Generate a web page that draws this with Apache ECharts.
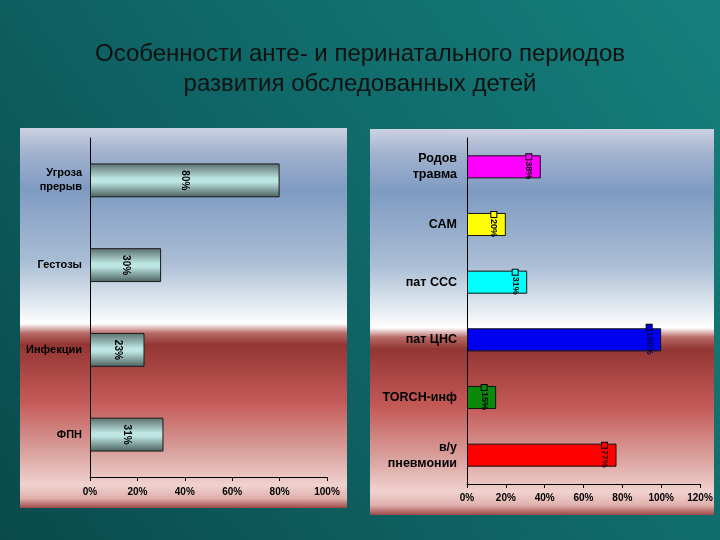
<!DOCTYPE html>
<html><head><meta charset="utf-8">
<script src="https://cdn.jsdelivr.net/npm/echarts@6/dist/echarts.min.js"></script>
<style>html,body{margin:0;padding:0;background:#0e5f60;}#c{width:720px;height:540px;}</style>
</head><body><div id="c"></div>
<script>
const titleText = 'Особенности анте- и перинатального периодов\nразвития обследованных детей';
const leftCategories = ['Угроза\nпрерыв', 'Гестозы', 'Инфекции', 'ФПН'];
const leftValues = [0.80, 0.30, 0.23, 0.31];
const rightCategories = ['Родов\nтравма', 'САМ', 'пат ССС', 'пат ЦНС', 'TORCH-инф', 'в/у\nпневмонии'];
const rightValues = [0.38, 0.20, 0.31, 1.00, 0.15, 0.77];
const leftTicks = [0, 0.2, 0.4, 0.6, 0.8, 1.0];
const rightTicks = [0, 0.2, 0.4, 0.6, 0.8, 1.0, 1.2];
const rightColors = ['#ff00ff', '#ffff00', '#00ffff', '#0000f0', '#0a8a0a', '#ff0000'];
const rightTextColors = ['#000', '#000', '#000', '#000050', '#000', '#300'];

const FONT = '"Liberation Sans", Arial, sans-serif';
const pct = v => Math.round(v * 100) + '%';

function panelFill() {
  return new echarts.graphic.LinearGradient(0, 0, 0, 1, [
    {offset: 0.00, color: '#cdd2e2'},
    {offset: 0.06, color: '#a4b3cf'},
    {offset: 0.16, color: '#7f9bc2'},
    {offset: 0.35, color: '#a9bdd4'},
    {offset: 0.47, color: '#e6ecf2'},
    {offset: 0.515, color: '#ffffff'},
    {offset: 0.54, color: '#b86a66'},
    {offset: 0.57, color: '#923634'},
    {offset: 0.72, color: '#c45a58'},
    {offset: 0.85, color: '#d9a09c'},
    {offset: 0.94, color: '#f0d2ce'},
    {offset: 0.975, color: '#e0b0ac'},
    {offset: 1.00, color: '#9c4a48'}
  ]);
}

const chart = echarts.init(document.getElementById('c'), null, {renderer: 'canvas'});

const leftBarFill = new echarts.graphic.LinearGradient(0, 0, 0, 1, [
  {offset: 0, color: '#5a6f6d'},
  {offset: 0.45, color: '#bde6e2'},
  {offset: 0.55, color: '#bde6e2'},
  {offset: 1, color: '#4a5f5d'}
]);

const option = {
  animation: false,
  backgroundColor: 'transparent',
  graphic: [
    {type: 'rect', z: -10, silent: true, shape: {x: 0, y: 0, width: 720, height: 540},
     style: {fill: new echarts.graphic.LinearGradient(0, 1, 1, 0, [
       {offset: 0, color: '#0a4a4c'}, {offset: 0.5, color: '#0f6667'}, {offset: 1, color: '#16807c'}])}},
    {type: 'rect', z: -5, silent: true, shape: {x: 20, y: 128, width: 327, height: 380}, style: {fill: panelFill()}},
    {type: 'rect', z: -5, silent: true, shape: {x: 370, y: 129, width: 344, height: 386}, style: {fill: panelFill()}}
  ],
  title: {
    text: titleText, left: 'center', top: 34,
    textStyle: {fontFamily: FONT, fontSize: 24, fontWeight: 'normal', color: '#111', lineHeight: 30}
  },
  grid: [
    {left: 90, right: 393, top: 138, bottom: 63, containLabel: false},
    {left: 467, right: 20, top: 138, bottom: 56, containLabel: false}
  ],
  xAxis: [
    {gridIndex: 0, type: 'value', min: 0, max: 1, interval: 0.2,
     axisLine: {show: true, lineStyle: {color: '#000', width: 1}},
     axisTick: {show: true, length: 4, lineStyle: {color: '#000'}},
     splitLine: {show: false},
     axisLabel: {formatter: v => pct(v), margin: 10, fontFamily: FONT, fontSize: 10, fontWeight: 'bold', color: '#000'}},
    {gridIndex: 1, type: 'value', min: 0, max: 1.2, interval: 0.2,
     axisLine: {show: true, lineStyle: {color: '#000', width: 1}},
     axisTick: {show: true, length: 4, lineStyle: {color: '#000'}},
     splitLine: {show: false},
     axisLabel: {formatter: v => pct(v), margin: 9, fontFamily: FONT, fontSize: 10, fontWeight: 'bold', color: '#000'}}
  ],
  yAxis: [
    {gridIndex: 0, type: 'category', data: leftCategories, inverse: true,
     axisLine: {show: true, lineStyle: {color: '#000', width: 1}},
     axisTick: {show: false},
     axisLabel: {margin: 8, fontFamily: FONT, fontSize: 11, fontWeight: 'bold', color: '#000', lineHeight: 14}},
    {gridIndex: 1, type: 'category', data: rightCategories, inverse: true,
     axisLine: {show: true, lineStyle: {color: '#000', width: 1}},
     axisTick: {show: false},
     axisLabel: {margin: 10, fontFamily: FONT, fontSize: 12.5, fontWeight: 'bold', color: '#000', lineHeight: 16}}
  ],
  series: [
    {type: 'bar', xAxisIndex: 0, yAxisIndex: 0, barWidth: '40%',
     data: leftValues,
     itemStyle: {color: leftBarFill, borderColor: '#1a1a1a', borderWidth: 1},
     label: {show: true, position: 'inside', rotate: -90, align: 'center', verticalAlign: 'middle',
       formatter: p => pct(p.value), fontFamily: FONT, fontSize: 10, fontWeight: 'bold', color: '#000'}},
    {type: 'bar', xAxisIndex: 1, yAxisIndex: 1, barWidth: '40%',
     data: rightValues.map((v, i) => ({
       value: v,
       itemStyle: {color: rightColors[i]},
       label: {
         color: rightTextColors[i],
         rich: {
           s: {width: 5, height: 5, lineHeight: 5, fontSize: 5, backgroundColor: rightColors[i], borderColor: '#000', borderWidth: 1},
           t: {fontFamily: FONT, fontSize: 9, fontWeight: 'bold', color: rightTextColors[i], padding: [0, 0, 0, 2]}
         }
       }
     })),
     itemStyle: {borderColor: '#111', borderWidth: 1},
     label: {show: true, position: 'insideRight', distance: 12, rotate: -90, align: 'center', verticalAlign: 'middle',
       formatter: p => '{s| }{t|' + pct(p.value) + '}'}}
  ]
};
chart.setOption(option);
</script>
</body></html>
